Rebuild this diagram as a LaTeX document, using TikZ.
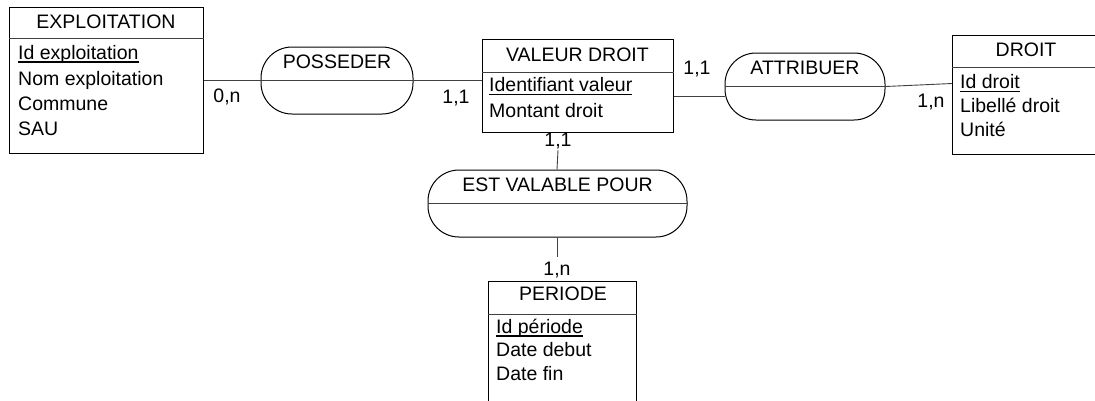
\documentclass[tikz,border=0pt]{standalone}
\usepackage{fontspec}
\setmainfont{Liberation Sans}
\newcommand\keyul[1]{\setbox0\hbox{#1}\rlap{\rule[-3.8pt]{\wd0}{1.8pt}}\box0}
\begin{document}
\begin{tikzpicture}[x=1pt,y=-1pt,
  every node/.style={font=\fontsize{19.5}{23}\selectfont, inner sep=0pt},
  ent/.style={draw=black, line width=1pt, anchor=north west},
  rel/.style={draw=black, line width=1pt, rounded corners=31},
  att/.style={anchor=base west},
  ttl/.style={anchor=base},
  card/.style={anchor=base},
  link/.style={draw=black!75, line width=0.9pt},
  sep/.style={draw=black!75, line width=1pt}]
\useasboundingbox (0,0) rectangle (1095,400);
\clip (0,0) rectangle (1095,400);
% EXPLOITATION
\node[ent, minimum width=194pt, minimum height=146pt] (expl) at (9,7) {};
\draw[sep] (expl.west |- 0,38) -- (expl.east |- 0,38);
\node[ttl] (explt) at (106,28.5) {EXPLOITATION};
\node[att] (expla1) at (18,59) {\keyul{Id exploitation}};
\node[att] (expla2) at (18,85) {Nom exploitation};
\node[att] (expla3) at (18,110) {Commune};
\node[att] (expla4) at (18,135) {SAU};
% VALEUR DROIT
\node[ent, minimum width=191pt, minimum height=93pt] (val) at (482,39) {};
\draw[sep] (val.west |- 0,72) -- (val.east |- 0,72);
\node[ttl] (valt) at (577.5,61.5) {VALEUR DROIT};
\node[att] (vala1) at (489,91.5) {\keyul{Identifiant valeur}};
\node[att] (vala2) at (489,117.5) {Montant droit};
% DROIT
\node[ent, minimum width=180pt, minimum height=119pt] (droit) at (952,35) {};
\draw[sep] (droit.west |- 0,67) -- (droit.east |- 0,67);
\node[ttl] (droitt) at (1026,56.5) {DROIT};
\node[att] (droita1) at (960,88.5) {\keyul{Id droit}};
\node[att] (droita2) at (960,112.5) {Libellé droit};
\node[att] (droita3) at (960,136.5) {Unité};
% PERIODE
\node[ent, minimum width=148pt, minimum height=140pt] (per) at (488,281) {};
\draw[sep] (per.west |- 0,314) -- (per.east |- 0,314);
\node[ttl] (pert) at (563,300.5) {PERIODE};
\node[att] (pera1) at (496,333) {\keyul{Id période}};
\node[att] (pera2) at (496,356.5) {Date debut};
\node[att] (pera3) at (496,380) {Date fin};
% POSSEDER
\node[rel, minimum width=152pt, minimum height=67pt] (poss) at (337,80.5) {};
\draw[sep] (poss.west) -- (poss.east);
\node[ttl] (posst) at (337,68.5) {POSSEDER};
% ATTRIBUER
\node[rel, minimum width=160pt, minimum height=67pt] (attr) at (805,86.5) {};
\draw[sep] (attr.west) -- (attr.east);
\node[ttl] (attrt) at (805,74.5) {ATTRIBUER};
% EST VALABLE POUR
\node[rel, minimum width=259pt, minimum height=67pt] (est) at (557.5,203.5) {};
\draw[sep] (est.west) -- (est.east);
\node[ttl] (estt) at (557.5,191.5) {EST VALABLE POUR};
% connectors
\draw[link] (expl.east |- 0,80.5) -- (poss.west);
\draw[link] (poss.east) -- (val.west |- 0,80.5);
\draw[link] (val.east |- 0,96) -- (attr.west |- 0,96);
\draw[link] (attr.east) -- (droit.west |- 0,83.5);
\node[card] (c1) at (227,102.5) {0,n};
\node[card] (c2) at (456,103.5) {1,1};
\node[card] (c3) at (697,74.5) {1,1};
\node[card] (c4) at (931,107.5) {1,n};
\node[card] (c5) at (558,146.5) {1,1};
\node[card] (c6) at (557,275) {1,n};
\draw[link] (558,150) -- (est.north -| 557,0);
\draw[link] (est.south -| 557,0) -- (557,257);
\end{tikzpicture}
\end{document}
